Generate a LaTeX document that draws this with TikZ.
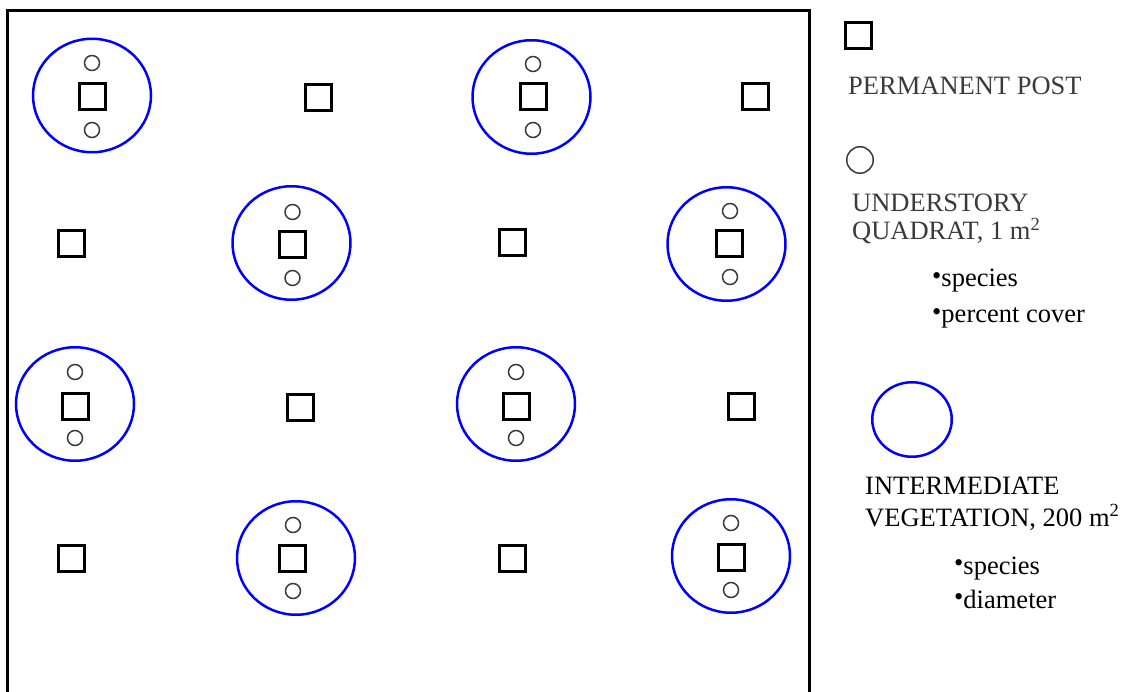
\documentclass[tikz,border=0pt]{standalone}
\usepackage{fontspec}
\setmainfont{Liberation Serif}
\usetikzlibrary{shapes.geometric}
\definecolor{inkgray}{HTML}{3A3A3A}
\newcommand{\bul}{\raisebox{2.5pt}{•}}

\begin{document}
\begin{tikzpicture}[x=1pt, y=-1pt,
	post/.style={rectangle, inner sep=0, minimum size=26pt, draw=black,
				line width=3pt},
	quad/.style={circle, inner sep=0, minimum size=15pt, draw=inkgray,
				line width=1.5pt},
	veg/.style={ellipse, inner sep=0, minimum width=118pt,
				minimum height=113.5pt, draw=blue, line width=2.5pt},
	legtext/.style={anchor=base west, inner sep=0, align=left,
				font=\fontsize{26.5}{28}\selectfont}]
	\useasboundingbox (0,0) rectangle (1132,692);
	\coordinate (lb) at (7,692);
	\coordinate (lt) at (7,10.5);
	\coordinate (rt) at (809,10.5);
	\coordinate (rb) at (809,692);
	\draw[line width=3pt] (lb) -- (lt) -- (rt) -- (rb);

	\node[veg] (v1) at (92,95.5) {};
	\node[post] (p1) at (92.5,96.5) {};
	\node[quad] (q1a) at (92,63) {};
	\node[quad] (q1b) at (92,130) {};
	\node[post] (p2) at (318,98) {};
	\node[veg] (v3) at (531.5,97) {};
	\node[post] (p3) at (533.5,97) {};
	\node[quad] (q3a) at (533,64) {};
	\node[quad] (q3b) at (533,130) {};
	\node[post] (p4) at (755.5,97) {};

	\node[post] (p5) at (71.5,243.5) {};
	\node[veg] (v6) at (291.5,243) {};
	\node[post] (p6) at (292.5,244.5) {};
	\node[quad] (q6a) at (292.5,212) {};
	\node[quad] (q6b) at (292.5,278) {};
	\node[post] (p7) at (512,243) {};
	\node[veg] (v8) at (726.5,244) {};
	\node[post] (p8) at (729,244) {};
	\node[quad] (q8a) at (730,211) {};
	\node[quad] (q8b) at (730,277) {};

	\node[veg] (v9) at (75,404) {};
	\node[post] (p9) at (75.5,406.5) {};
	\node[quad] (q9a) at (75,372) {};
	\node[quad] (q9b) at (75,438) {};
	\node[post] (p10) at (300,407) {};
	\node[veg] (v11) at (516,404) {};
	\node[post] (p11) at (516,406) {};
	\node[quad] (q11a) at (516,372) {};
	\node[quad] (q11b) at (516,438) {};
	\node[post] (p12) at (741,406) {};

	\node[post] (p13) at (71.5,558) {};
	\node[veg] (v14) at (296,558) {};
	\node[post] (p14) at (292.5,558.5) {};
	\node[quad] (q14a) at (293,525) {};
	\node[quad] (q14b) at (293,591) {};
	\node[post] (p15) at (512,558) {};
	\node[veg] (v16) at (731,556) {};
	\node[post] (p16) at (731,557) {};
	\node[quad] (q16a) at (731,523) {};
	\node[quad] (q16b) at (731,590) {};

	\node[post] (keypost) at (858,35.5) {};
	\node[legtext, text=inkgray] (postlab) at (848,95) {PERMANENT POST};
	\node[quad, minimum size=26.5pt] (keyquad) at (860,160) {};
	\node[legtext, text=inkgray] (quadlab) at (852,240)
		{UNDERSTORY\\QUADRAT, 1 m\textsuperscript{2}};
	\node[legtext] (quadspec) at (932,287) {\bul species};
	\node[legtext] (quadcov) at (932,323) {\bul percent cover};
	\node[veg, minimum width=79.5pt, minimum height=74.5pt] (keyveg)
		at (912,419.5) {};
	\node[legtext] (veglab) at (865,526)
		{INTERMEDIATE\\[4pt]VEGETATION, 200 m\textsuperscript{2}};
	\node[legtext] (vegspec) at (954,574) {\bul species};
	\node[legtext] (vegdia) at (954,608) {\bul diameter};
\end{tikzpicture}
\end{document}
